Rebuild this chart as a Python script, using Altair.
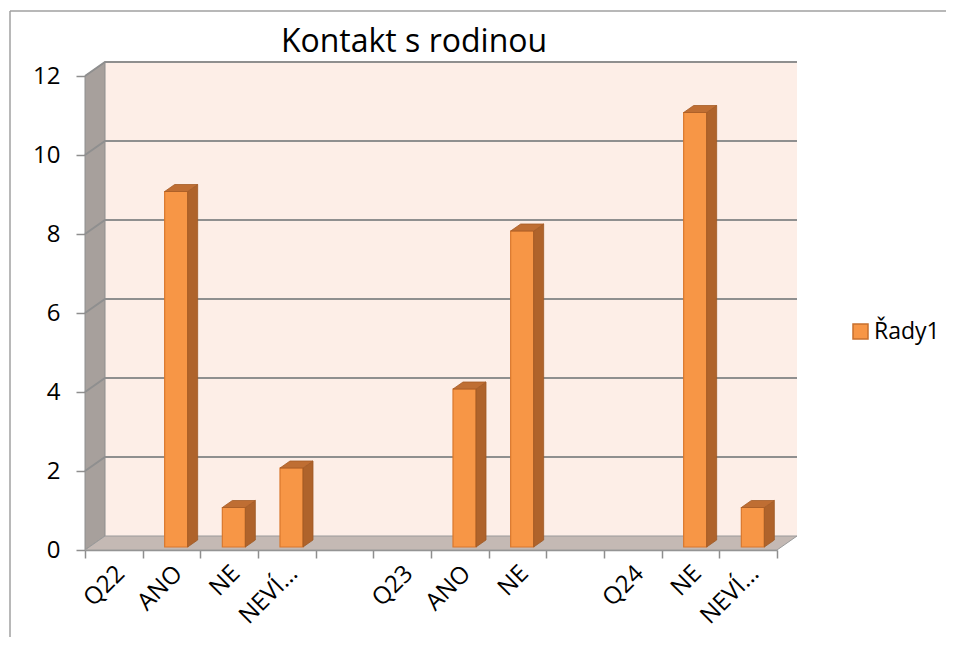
import altair as alt
import pandas as pd

# ---- data ----
categories = ["Q22", "ANO", "NE", "NEVÍ…", "", "Q23", "ANO", "NE", "", "Q24", "NE", "NEVÍ…"]
values = [None, 9, 1, 2, None, None, 4, 8, None, None, 11, 1]
series_name = "Řady1"
y_ticks = [0, 2, 4, 6, 8, 10, 12]
title_text = "Kontakt s rodinou"

# ---- geometry (pixels -> data units) ----
W, H = 692, 474
N = len(categories)
YMAX = 12
ux = W / N
uy = H / YMAX
DX, DY = 20 / ux, 14 / uy          # depth of walls
BX0, BX1 = 22 / ux, 45 / ux        # bar front face within a band
BDX, BDY = 10 / ux, 7 / uy         # bar depth
B0 = 3 / uy                        # bars sit slightly behind front edge

xs = alt.Scale(domain=[0, N], nice=False, zero=False)
ys = alt.Scale(domain=[0, YMAX], nice=False, zero=False)

labels_js = "[" + ",".join("'" + c + "'" for c in categories) + "]"
x_axis = alt.Axis(
    values=list(range(N + 1)), labelExpr=f"datum.value < {N} ? {labels_js}[datum.value] : ''",
    labelAngle=-45, labelOffset=27, labelFont="Open Sans", labelFontSize=24, labelColor="black",
    tickSize=8, tickColor="#8E8E8E", tickWidth=1.5, domainColor="#8E8E8E", domainWidth=1.5,
    grid=False, labelPadding=3, labelOverlap=False, labelFlush=False, labelBound=False, title=None,
)
y_axis = alt.Axis(
    values=y_ticks, labelFont="Open Sans", labelFontSize=24, labelColor="black",
    tickSize=9, tickColor="#8E8E8E", tickWidth=1.5, domain=False, grid=False,
    labelPadding=16, title=None,
)

# back wall
wall_df = pd.DataFrame({"x": [DX], "x2": [N + DX], "y": [DY], "y2": [YMAX + DY]})
wall = alt.Chart(wall_df).mark_rect(fill="#FDEEE7").encode(
    x=alt.X("x:Q", scale=xs, axis=x_axis), x2="x2:Q",
    y=alt.Y("y:Q", scale=ys, axis=y_axis), y2="y2:Q",
)

# left side wall (parallelogram)
side_df = pd.DataFrame({"y": [0, DY, YMAX, YMAX + DY], "xl": [0, 0, 0, DX], "xr": [0, DX, DX, DX]})
side_wall = alt.Chart(side_df).mark_area(orient="horizontal", fill="#A7A09C", stroke="#8E8E8E",
                                         strokeWidth=1).encode(
    y=alt.Y("y:Q", scale=ys, axis=y_axis, stack=None),
    x=alt.X("xl:Q", scale=xs, axis=x_axis), x2="xr:Q",
)

# floor
floor_df = pd.DataFrame({"x": [0, DX, N, N + DX], "top": [0, DY, DY, DY], "bot": [0, 0, 0, DY]})
floor = alt.Chart(floor_df).mark_area(orient="vertical", fill="#C4B9B4", stroke="#9A9A9A",
                                      strokeWidth=1).encode(
    x=alt.X("x:Q", scale=xs, axis=x_axis),
    y=alt.Y("top:Q", scale=ys, axis=y_axis, stack=None), y2="bot:Q",
)

# gridlines (across side wall and back wall)
grid_rows = []
for v in y_ticks[1:]:
    grid_rows += [{"v": v, "x": 0, "y": v}, {"v": v, "x": DX, "y": v + DY}, {"v": v, "x": N + DX, "y": v + DY}]
grid = alt.Chart(pd.DataFrame(grid_rows)).mark_line(color="#8F8F8F", strokeWidth=2).encode(
    x=alt.X("x:Q", scale=xs, axis=x_axis),
    y=alt.Y("y:Q", scale=ys, axis=y_axis),
    detail="v:N",
)

# bars
front_rows, sidef_rows, top_rows = [], [], []
for i, v in enumerate(values):
    if v is None:
        continue
    x0, x1 = i + BX0, i + BX1
    front_rows.append({"i": i, "series": series_name, "x0": x0, "x1": x1, "y0": B0, "y1": v + B0})
    sidef_rows += [{"i": i, "x": x1, "top": v + B0, "bot": B0},
                   {"i": i, "x": x1 + BDX, "top": v + B0 + BDY, "bot": B0 + BDY}]
    top_rows += [{"i": i, "y": v + B0, "xl": x0, "xr": x1},
                 {"i": i, "y": v + B0 + BDY, "xl": x0 + BDX, "xr": x1 + BDX}]

bar_side = alt.Chart(pd.DataFrame(sidef_rows)).mark_area(orient="vertical", fill="#AF632B",
                                                         stroke="#9E5925", strokeWidth=0.8).encode(
    x=alt.X("x:Q", scale=xs, axis=x_axis),
    y=alt.Y("top:Q", scale=ys, axis=y_axis, stack=None), y2="bot:Q",
    detail="i:N",
)
bar_top = alt.Chart(pd.DataFrame(top_rows)).mark_area(orient="horizontal", fill="#BF6E33",
                                                      stroke="#A65C27", strokeWidth=0.8).encode(
    y=alt.Y("y:Q", scale=ys, axis=y_axis, stack=None),
    x=alt.X("xl:Q", scale=xs, axis=x_axis), x2="xr:Q",
    detail="i:N",
)
bar_front = alt.Chart(pd.DataFrame(front_rows)).mark_rect(stroke="#D9772C", strokeWidth=1.2).encode(
    x=alt.X("x0:Q", scale=xs, axis=x_axis), x2="x1:Q",
    y=alt.Y("y0:Q", scale=ys, axis=y_axis), y2="y1:Q",
    color=alt.Color("series:N", scale=alt.Scale(domain=[series_name], range=["#F79646"]),
                    legend=alt.Legend(orient="none", legendX=764, legendY=244, title=None,
                                      symbolType="square", symbolSize=225,
                                      symbolStrokeColor="#C8702E", symbolStrokeWidth=1.5,
                                      labelFont="Open Sans", labelFontSize=23, labelColor="black",
                                      labelOffset=2, padding=0)),
)

# title as text
title = alt.Chart(pd.DataFrame({"t": [title_text]})).mark_text(
    font="Open Sans", fontSize=32, color="black", baseline="alphabetic", align="center"
).encode(text="t:N", x=alt.value(329), y=alt.value(-24))

# outer frame lines (top and left), kept inside the canvas
frame_top = alt.Chart(pd.DataFrame({"a": [0]})).mark_rule(color="#A0A0A0", strokeWidth=1.5).encode(
    x=alt.value(-75), x2=alt.value(W + 169), y=alt.value(-65))
frame_left = alt.Chart(pd.DataFrame({"a": [0]})).mark_rule(color="#A0A0A0", strokeWidth=1.5).encode(
    x=alt.value(-75), x2=alt.value(-75), y=alt.value(-65), y2=alt.value(H + 87))

chart = alt.layer(
    wall, side_wall, floor, grid, bar_front, bar_side, bar_top, title, frame_top, frame_left
).properties(
    width=W, height=H,
    autosize=alt.AutoSizeParams(type="none"),
    padding={"left": 77, "top": 68, "right": 170, "bottom": 88},
).configure_view(stroke=None).configure(background="white")

chart.save("out.html", embed_options={"renderer": "svg", "actions": False})
